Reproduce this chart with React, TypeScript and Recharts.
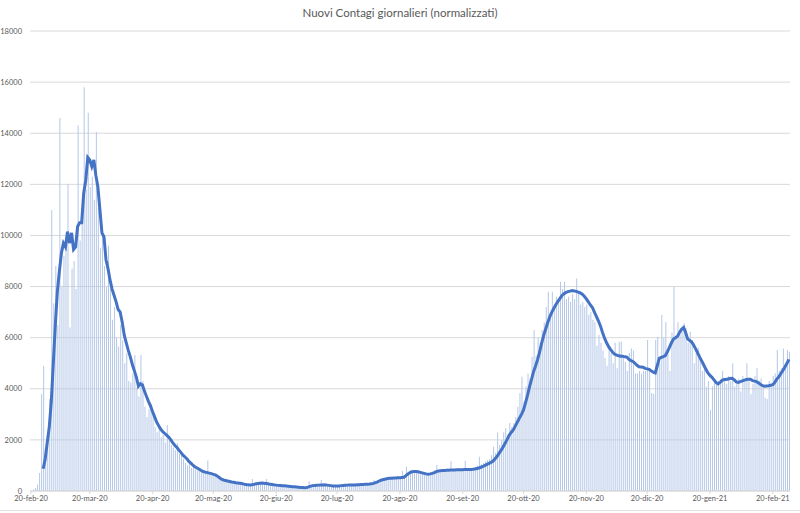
import React from "react";
import {
  ComposedChart,
  Bar,
  Line,
  XAxis,
  YAxis,
  CartesianGrid
} from "recharts";

const MONTHS = ["gen", "feb", "mar", "apr", "mag", "giu", "lug", "ago", "set", "ott", "nov", "dic"];

// daily new cases (bars), 20-feb-20 .. 28-feb-21
const dailyCases = [
  0, 60, 120, 250, 700, 3800, 4900, 1500, 2300, 3600,
  11000, 7350, 8800, 6500, 14600, 8000, 9200, 9800, 12000, 6400,
  8700, 9000, 7900, 14300, 9800, 10600, 15800, 11800, 14800, 11900,
  12300, 11400, 14050, 11100, 9500, 10200, 8800, 8000, 9600, 7950,
  6700, 7200, 6000, 5650, 6500, 5900, 5000, 5400, 4300, 4250,
  4600, 5320, 4050, 3700, 5320, 4300, 3300, 2900, 3200, 3400,
  2970, 2500, 2300, 2600, 2100, 2200, 1900, 2580, 2000, 1800,
  1700, 1600, 1880, 1450, 1400, 1250, 1100, 1000, 1050, 900,
  950, 850, 800, 780, 750, 700, 720, 1190, 650, 600,
  620, 560, 500, 450, 430, 400, 380, 420, 350, 330,
  360, 300, 310, 290, 280, 300, 250, 260, 270, 470,
  300, 280, 320, 350, 330, 300, 470, 280, 260, 250,
  270, 230, 240, 220, 200, 230, 190, 180, 200, 170,
  160, 180, 150, 140, 160, 130, 200, 390, 220, 250,
  240, 230, 260, 430, 240, 250, 220, 230, 200, 210,
  190, 220, 200, 230, 250, 240, 260, 220, 250, 270,
  240, 260, 250, 280, 260, 290, 270, 300, 310, 430,
  350, 420, 450, 480, 470, 500, 520, 480, 540, 500,
  560, 520, 550, 780, 600, 950, 700, 800, 750, 780,
  720, 690, 650, 700, 640, 680, 700, 750, 720, 800,
  1020, 780, 830, 850, 800, 870, 820, 1160, 860, 800,
  850, 880, 820, 900, 1180, 850, 900, 870, 920, 950,
  1000, 1340, 1050, 1100, 1150, 1200, 1250, 1400, 1730, 1500,
  2300, 1800, 2000, 2300, 2460, 2200, 2660, 2500, 2660, 2900,
  3300, 3830, 4470, 3500, 4100, 4600, 4400, 5250, 6300, 5300,
  6000, 5800, 6300, 6600, 7200, 7800, 7000, 7800, 7200, 7600,
  7400, 8190, 7900, 8190, 7500, 7600, 7400, 7700, 7500, 8320,
  7800, 7300, 7400, 7200, 7300, 6900, 7000, 6700, 6600, 5680,
  6100, 5800, 5500, 5200, 4900, 5700, 5400, 5000, 5800, 4800,
  5840, 5840, 5300, 5060, 4700, 5400, 5580, 5500, 4600, 4600,
  4700, 4600, 4700, 4700, 5910, 4800, 3830, 3800, 5910, 6040,
  5000, 6890, 6000, 6600, 5500, 4700, 6200, 8000, 6000, 6600,
  6100, 6300, 6560, 6380, 5800, 6230, 5900, 5000, 5400, 5600,
  5250, 4700, 4900, 4080, 4300, 3170, 4100, 4350, 4200, 4300,
  4350, 4700, 4400, 4200, 4500, 4300, 5000, 4100, 4300, 4400,
  3900, 4500, 4300, 5000, 4400, 3800, 4200, 4500, 4800, 4300,
  4400, 4100, 3650, 3600, 4300, 4100, 4500, 4600, 5520, 4700,
  4800, 5580, 4900, 5520, 5450
];

// 7-day average (line), starts on day 6
const averageCases = [
  null, null, null, null, null, null, 870, 1250, 1900, 2500,
  3500, 5000, 6500, 7800, 8600, 9300, 9700, 9550, 10150, 9700,
  10100, 9450, 9550, 10350, 10500, 10500, 11650, 12150, 13050, 12950,
  12700, 12950, 12350, 11900, 11000, 10100, 9950, 9050, 8700, 8250,
  7900, 7650, 7400, 7100, 7000, 6600, 6100, 5800, 5500, 5250,
  4950, 4700, 4450, 4100, 4200, 4150, 3900, 3700, 3500, 3320,
  3100, 2900, 2700, 2550, 2420, 2320, 2250, 2180, 2100, 2000,
  1880, 1780, 1700, 1600, 1500, 1400, 1330, 1250, 1150, 1080,
  1000, 940, 900, 850, 800, 760, 740, 720, 700, 680,
  650, 630, 580, 520, 460, 430, 410, 390, 370, 350,
  340, 320, 310, 300, 290, 270, 250, 240, 235, 240,
  260, 280, 290, 300, 310, 300, 290, 280, 260, 250,
  240, 230, 220, 215, 210, 205, 200, 190, 180, 170,
  165, 160, 150, 140, 135, 130, 140, 160, 190, 210,
  220, 225, 230, 235, 235, 240, 230, 220, 210, 200,
  200, 200, 200, 210, 220, 225, 230, 235, 235, 235,
  235, 240, 245, 250, 255, 260, 265, 270, 280, 300,
  330, 360, 400, 430, 450, 470, 485, 495, 500, 505,
  510, 515, 520, 530, 540, 600, 670, 720, 750, 760,
  760, 750, 730, 710, 690, 670, 660, 670, 690, 720,
  760, 780, 790, 800, 805, 810, 815, 820, 820, 825,
  830, 830, 835, 835, 840, 840, 840, 845, 850, 860,
  880, 900, 930, 960, 1000, 1040, 1080, 1120, 1170, 1260,
  1360, 1480, 1600, 1730, 1880, 2030, 2190, 2300, 2400, 2550,
  2700, 2850, 3000, 3170, 3450, 3750, 4080, 4380, 4680, 4900,
  5150, 5450, 5800, 6100, 6350, 6600, 6820, 7000, 7150, 7300,
  7420, 7540, 7650, 7720, 7770, 7800, 7820, 7840, 7830, 7810,
  7780, 7750, 7700, 7620, 7520, 7400, 7280, 7180, 7000, 6820,
  6650, 6450, 6200, 5980, 5800, 5650, 5530, 5430, 5350, 5320,
  5290, 5270, 5270, 5250, 5240, 5150, 5100, 5070, 5000, 4920,
  4860, 4850, 4840, 4800, 4780, 4760, 4700, 4650, 4620, 4900,
  5190, 5230, 5260, 5300, 5450, 5620, 5800, 5950, 6000, 6060,
  6200, 6330, 6400, 6200, 5950, 5890, 5830, 5700, 5550, 5390,
  5230, 5080, 4920, 4760, 4620, 4520, 4450, 4350, 4250, 4190,
  4250, 4330, 4360, 4360, 4380, 4400, 4410, 4350, 4270, 4250,
  4280, 4310, 4340, 4360, 4370, 4370, 4320, 4300, 4280, 4230,
  4170, 4120, 4100, 4110, 4120, 4140, 4160, 4250, 4380, 4470,
  4600, 4720, 4850, 5000, 5150
];

const xTicks = [
  "20-feb-20", "20-mar-20", "20-apr-20", "20-mag-20", "20-giu-20", "20-lug-20",
  "20-ago-20", "20-set-20", "20-ott-20", "20-nov-20", "20-dic-20", "20-gen-21", "20-feb-21"
];

const yTicks = [0, 2000, 4000, 6000, 8000, 10000, 12000, 14000, 16000, 18000];

const startDate = Date.UTC(2020, 1, 20);

const data = dailyCases.map((cases, i) => {
  const d = new Date(startDate + i * 86400000);
  const label = `${d.getUTCDate()}-${MONTHS[d.getUTCMonth()]}-${String(d.getUTCFullYear()).slice(2)}`;
  return { date: label, cases, avg: averageCases[i] };
});

const tickStyle = { fontSize: 7.5, fill: "#595959", fontFamily: "Lato, sans-serif" };

export default function App() {
  return (
    <div
      style={{
        position: "absolute",
        left: 0,
        top: 0,
        width: 800,
        height: 513,
        background: "#fff"
      }}
    >
      <div
        style={{
          position: "absolute",
          top: 6,
          left: 0,
          width: 800,
          textAlign: "center",
          fontFamily: "Lato, sans-serif",
          fontSize: 11.5,
          color: "#595959"
        }}
      >
        Nuovi Contagi giornalieri (normalizzati)
      </div>
      <ComposedChart
        width={800}
        height={513}
        data={data}
        margin={{ top: 31, right: 10, left: 0, bottom: 2 }}
        barCategoryGap={0}
      >
        <CartesianGrid vertical={false} stroke="#d9d9d9" />
        <XAxis
          dataKey="date"
          ticks={xTicks}
          interval={0}
          tick={tickStyle}
          tickSize={3}
          tickLine={{ stroke: "#d9d9d9" }}
          axisLine={{ stroke: "#d9d9d9" }}
          height={20}
        />
        <YAxis
          domain={[0, 18000]}
          ticks={yTicks}
          tick={tickStyle}
          axisLine={false}
          tickLine={false}
          width={30}
        />
        <Bar dataKey="cases" fill="#b4c7e7" barSize={1} isAnimationActive={false} />
        <Line
          dataKey="avg"
          type="linear"
          stroke="#4472c4"
          strokeWidth={3}
          dot={false}
          isAnimationActive={false}
        />
      </ComposedChart>
      <div
        style={{
          position: "absolute",
          left: 0,
          top: 510,
          width: 800,
          height: 1,
          background: "#e0e0e0"
        }}
      />
    </div>
  );
}
